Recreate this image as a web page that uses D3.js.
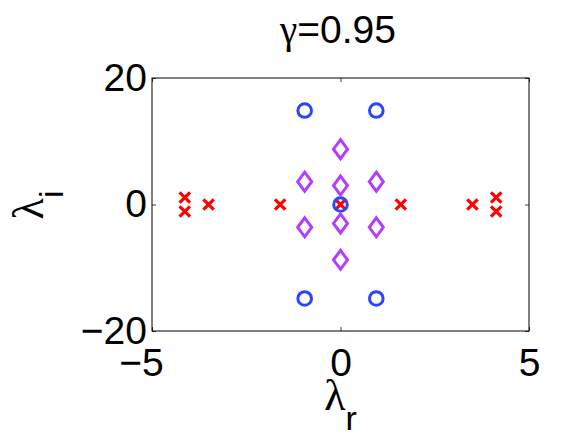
<!DOCTYPE html>
<html>
<head>
<meta charset="utf-8">
<script src="https://cdn.jsdelivr.net/npm/d3@7"></script>
<style>
  body { margin: 0; background: #fff; }
  text { font-family: "Liberation Sans", Arial, sans-serif; }
</style>
</head>
<body>
<svg id="chart" width="584" height="439"></svg>
<script>
// Eigenvalue spectrum, gamma = 0.95.
var TITLE_VALUE = "0.95";

var xTicks = [-5, 0, 5];
var yTicks = [-20, 0, 20];

// Blue circles.
var circleRe = [-0.95, 0.95, 0, -0.95, 0.95];
var circleIm = [14.85, 14.85, 0, -14.85, -14.85];

// Purple diamonds.
var diamondRe = [0, 0, 0, 0, -0.95, 0.95, -0.95, 0.95];
var diamondIm = [8.75, 3.0, -3.0, -8.75, 3.6, 3.6, -3.6, -3.6];

// Red crosses.
var crossRe = [-4.13, -4.13, -3.5, -1.6, 0, 1.6, 3.5, 4.13, 4.13];
var crossIm = [1.1, -1.1, 0, 0, 0, 0, 0, 1.1, -1.1];

var margin = { top: 78, right: 55, bottom: 108, left: 152 };

var svg = d3.select("#chart"),
    width = +svg.attr("width") - margin.left - margin.right,
    height = +svg.attr("height") - margin.top - margin.bottom;

var x = d3.scaleLinear().domain([-5, 5]).range([0, width]);
var y = d3.scaleLinear().domain([-20, 20]).range([height, 0]);

var g = svg.append("g")
           .attr("transform", "translate(" + margin.left + "," + margin.top + ")");

function fmt(d) {
  return d < 0 ? "\u2212" + Math.abs(d) : String(d);
}

// Axes with inward ticks on all four sides.
var xBottom = g.append("g")
  .attr("transform", "translate(0," + height + ")")
  .call(d3.axisBottom(x).tickValues(xTicks).tickFormat(fmt)
          .tickSizeInner(-4).tickSizeOuter(0).tickPadding(17));
var yLeft = g.append("g")
  .call(d3.axisLeft(y).tickValues(yTicks).tickFormat(fmt)
          .tickSizeInner(-4).tickSizeOuter(0).tickPadding(5));
g.append("g")
  .call(d3.axisTop(x).tickValues(xTicks).tickFormat("")
          .tickSizeInner(-4).tickSizeOuter(0));
g.append("g")
  .attr("transform", "translate(" + width + ",0)")
  .call(d3.axisRight(y).tickValues(yTicks).tickFormat("")
          .tickSizeInner(-4).tickSizeOuter(0));

g.selectAll(".domain").remove();
g.selectAll(".tick line").attr("stroke", "#444").attr("stroke-width", 1);
g.selectAll(".tick text")
  .attr("font-size", 39)
  .attr("fill", "#000")
  .attr("font-family", "'Liberation Sans', Arial, sans-serif");

// Keep the digits centred on the tick, minus sign hangs to the left.
xBottom.selectAll(".tick text")
  .attr("dx", function(d) { return d < 0 ? -11 : 0; });

g.append("rect")
  .attr("width", width)
  .attr("height", height)
  .attr("fill", "none")
  .attr("stroke", "#000")
  .attr("stroke-width", 1);

// Markers.
var crosses = d3.range(crossRe.length).map(function(i) { return [crossRe[i], crossIm[i]]; });
var circles = d3.range(circleRe.length).map(function(i) { return [circleRe[i], circleIm[i]]; });
var diamonds = d3.range(diamondRe.length).map(function(i) { return [diamondRe[i], diamondIm[i]]; });

var cs = 5.2;
g.append("g").selectAll("path")
  .data(crosses)
  .enter().append("path")
  .attr("d", function(d) {
    var cx = x(d[0]), cy = y(d[1]);
    return "M" + (cx - cs) + "," + (cy - cs) + "L" + (cx + cs) + "," + (cy + cs) +
           "M" + (cx - cs) + "," + (cy + cs) + "L" + (cx + cs) + "," + (cy - cs);
  })
  .attr("stroke", "#ff0000")
  .attr("stroke-width", 3.2)
  .attr("fill", "none");

g.append("g").selectAll("circle")
  .data(circles)
  .enter().append("circle")
  .attr("cx", function(d) { return x(d[0]); })
  .attr("cy", function(d) { return y(d[1]); })
  .attr("r", 6.8)
  .attr("fill", "none")
  .attr("stroke", "#2a44ff")
  .attr("stroke-width", 3);

var dw = 7, dh = 9.5;
g.append("g").selectAll("path")
  .data(diamonds)
  .enter().append("path")
  .attr("d", function(d) {
    var cx = x(d[0]), cy = y(d[1]);
    return "M" + cx + "," + (cy - dh) + "L" + (cx + dw) + "," + cy +
           "L" + cx + "," + (cy + dh) + "L" + (cx - dw) + "," + cy + "Z";
  })
  .attr("fill", "none")
  .attr("stroke", "#b43cff")
  .attr("stroke-width", 3);

// Title.
var title = svg.append("text")
  .attr("x", 338)
  .attr("y", 43)
  .attr("text-anchor", "middle")
  .attr("font-size", 39);
title.append("tspan")
  .attr("font-family", "'Liberation Serif', 'DejaVu Serif', serif")
  .text("\u03b3");
title.append("tspan").text("=" + TITLE_VALUE);

// Axis labels.
var xl = svg.append("text")
  .attr("x", margin.left + width / 2)
  .attr("y", 410)
  .attr("text-anchor", "middle");
xl.append("tspan")
  .attr("font-family", "'Liberation Serif', 'DejaVu Serif', serif")
  .attr("font-size", 44)
  .text("\u03bb");
xl.append("tspan")
  .attr("font-size", 34)
  .attr("dy", 20)
  .text("r");

var yl = svg.append("text")
  .attr("transform", "translate(43,205) rotate(-90)")
  .attr("text-anchor", "middle");
yl.append("tspan")
  .attr("font-family", "'Liberation Serif', 'DejaVu Serif', serif")
  .attr("font-size", 44)
  .text("\u03bb");
yl.append("tspan")
  .attr("font-size", 34)
  .attr("dy", 20)
  .text("i");
</script>
</body>
</html>
